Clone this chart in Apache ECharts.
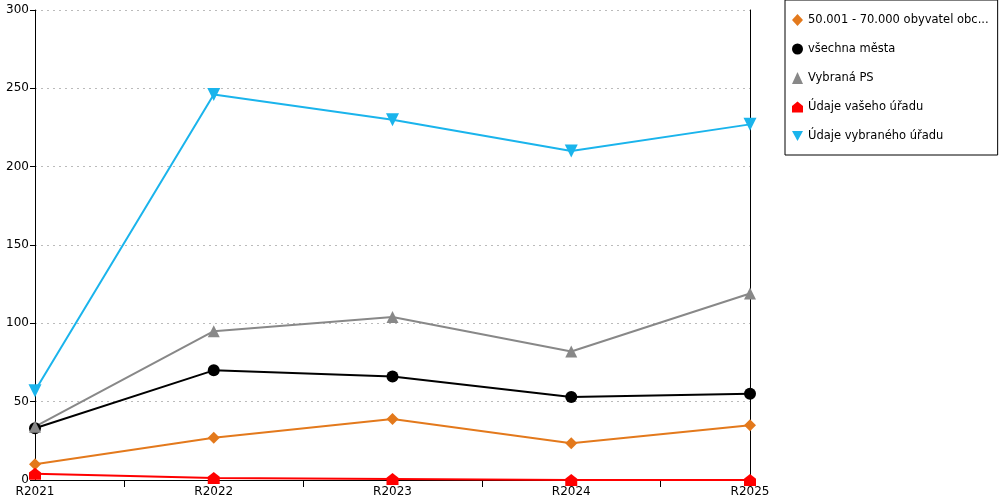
<!DOCTYPE html>
<html>
<head>
<meta charset="utf-8">
<script src="https://cdn.jsdelivr.net/npm/echarts@6/dist/echarts.min.js"></script>
<style>
	html, body { margin: 0; padding: 0; background: #fff; }
	#chart { width: 1000px; height: 500px; }
</style>
</head>
<body>
<div id="chart"></div>
<script>
	var categories = ['R2021', 'R2022', 'R2023', 'R2024', 'R2025'];
	var yTicks = [0, 50, 100, 150, 200, 250, 300];

	var seriesNames = [
		'50.001 - 70.000 obyvatel obc...',
		'všechna města',
		'Vybraná PS',
		'Údaje vašeho úřadu',
		'Údaje vybraného úřadu'
	];
	var obyvatelObce = [10, 27, 39, 23.5, 35];
	var vsechnaMesta = [33, 70, 66, 53, 55];
	var vybranaPS = [34, 95, 104, 82, 119];
	var udajeVasehoUradu = [4, 1.3, 0.6, 0, 0];
	var udajeVybranehoUradu = [57, 246, 230, 210, 227];

	var house = 'path://M0,4 L5,0 L10,4 L10,10 L0,10 Z';
	var downTri = 'path://M0,0 L10,0 L5,9 Z';
	var font = 'DejaVu Sans, Verdana, sans-serif';

	var chart = echarts.init(document.getElementById('chart'));

	function lineSeries(name, data, color, symbol, size) {
		return {
			name: name,
			type: 'line',
			data: data,
			symbol: symbol,
			symbolSize: size,
			showAllSymbol: true,
			lineStyle: { color: color, width: 2 },
			itemStyle: { color: color },
			emphasis: { disabled: true },
			animation: false
		};
	}

	var option = {
		backgroundColor: '#fff',
		animation: false,
		grid: { left: 35, right: 250, top: 10, bottom: 20 },
		legend: {
			orient: 'vertical',
			left: 785,
			top: 0,
			padding: [14, 9, 13, 7],
			itemWidth: 11,
			itemHeight: 12,
			itemGap: 17,
			borderColor: '#000',
			borderWidth: 1,
			textStyle: { fontFamily: font, fontSize: 11.5, color: '#000' },
			data: [
				{ name: seriesNames[0], icon: 'diamond' },
				{ name: seriesNames[1], icon: 'circle' },
				{ name: seriesNames[2], icon: 'triangle' },
				{ name: seriesNames[3], icon: house },
				{ name: seriesNames[4], icon: downTri }
			]
		},
		xAxis: [{
			type: 'category',
			data: categories,
			boundaryGap: false,
			axisLine: { lineStyle: { color: '#000', width: 1 } },
			axisTick: { show: false },
			axisLabel: { color: '#000', fontFamily: font, fontSize: 12, margin: 6 },
			splitLine: { show: false }
		}, {
			type: 'category',
			data: ['', '', '', ''],
			position: 'bottom',
			boundaryGap: true,
			axisLine: { show: false },
			axisTick: { show: true, alignWithLabel: true, length: 7, lineStyle: { color: '#000' } },
			axisLabel: { show: false },
			splitLine: { show: false }
		}],
		yAxis: [{
			type: 'value',
			min: yTicks[0],
			max: yTicks[yTicks.length - 1],
			interval: 50,
			axisLine: { show: true, lineStyle: { color: '#000', width: 1 } },
			axisTick: { show: true, length: 5, lineStyle: { color: '#000' } },
			axisLabel: { color: '#000', fontFamily: font, fontSize: 12, margin: 6 },
			splitLine: { show: true, lineStyle: { color: '#bbb', type: [2, 4] } }
		}, {
			type: 'value',
			position: 'right',
			min: yTicks[0],
			max: yTicks[yTicks.length - 1],
			interval: 50,
			axisLine: { show: true, lineStyle: { color: '#000', width: 1 } },
			axisTick: { show: false },
			axisLabel: { show: false },
			splitLine: { show: false }
		}],
		series: [
			lineSeries(seriesNames[0], obyvatelObce, '#e3791c', 'diamond', 12),
			lineSeries(seriesNames[1], vsechnaMesta, '#000000', 'circle', 12),
			lineSeries(seriesNames[2], vybranaPS, '#888888', 'triangle', 12),
			lineSeries(seriesNames[3], udajeVasehoUradu, '#ff0000', house, 12),
			lineSeries(seriesNames[4], udajeVybranehoUradu, '#1ab4ec', downTri, 13)
		]
	};

	chart.setOption(option);
</script>
</body>
</html>
